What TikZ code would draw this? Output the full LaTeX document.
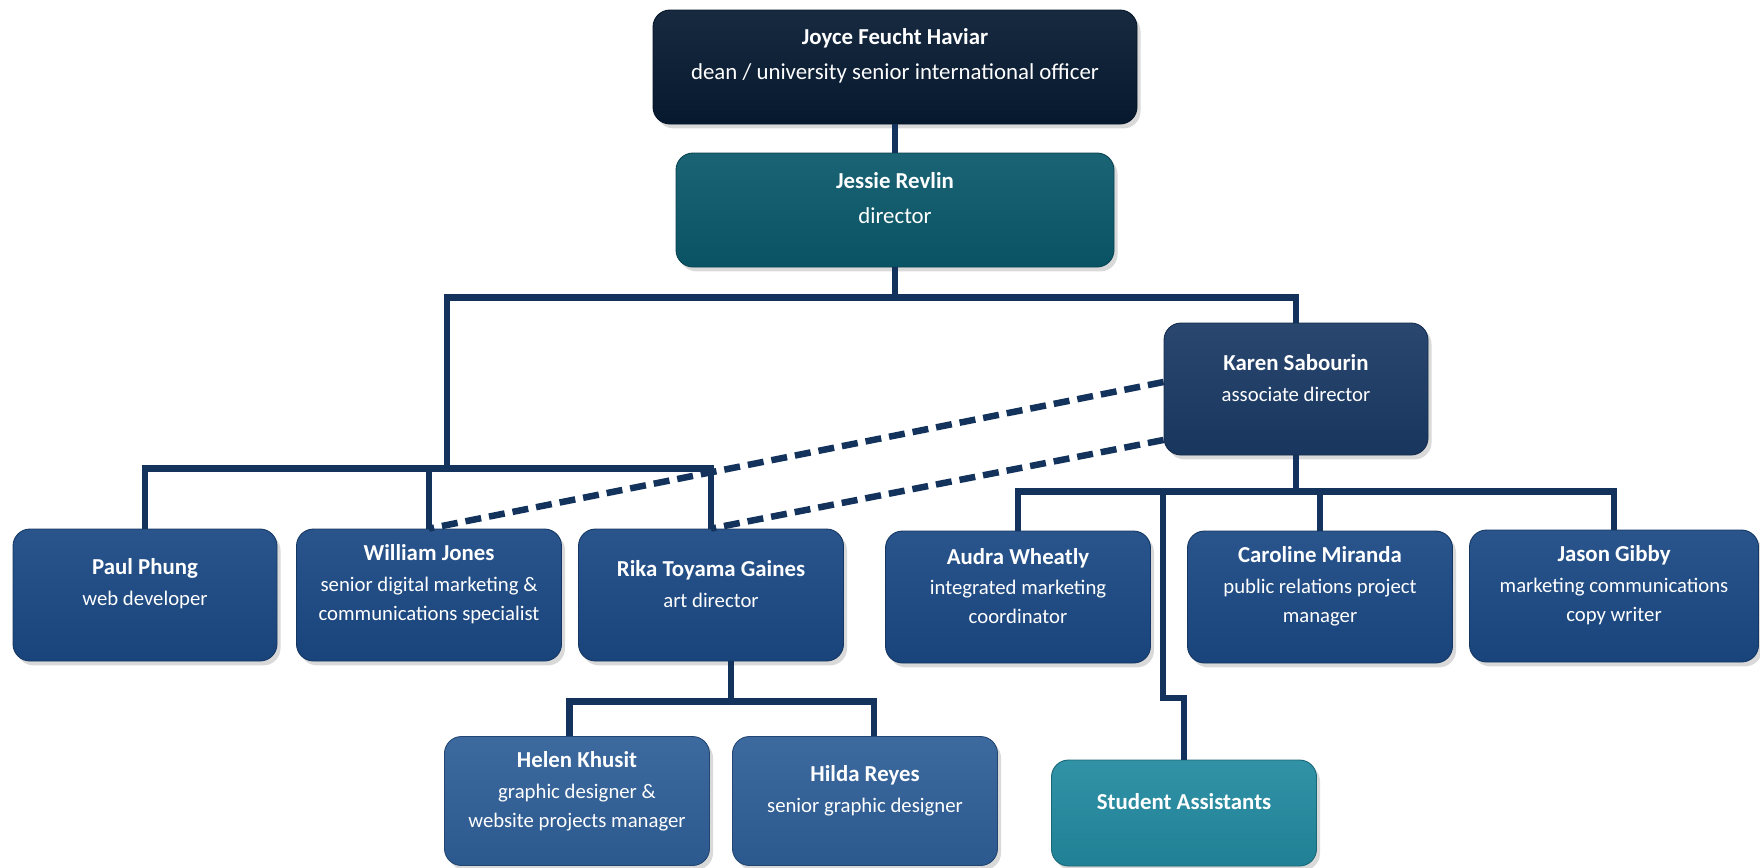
\documentclass[tikz,border=0pt]{standalone}
\usepackage{fontspec}
\setmainfont{Carlito}
\usetikzlibrary{shadows}
\definecolor{linkblue}{HTML}{13335C}
\definecolor{deanblue}{HTML}{061A31}
\definecolor{dirteal}{HTML}{09586A}
\definecolor{assocblue}{HTML}{1A3964}
\definecolor{staffblue}{HTML}{1A4883}
\definecolor{designblue}{HTML}{2E5E97}
\definecolor{studteal}{HTML}{22899F}
\newcommand{\who}[1]{{\fontsize{13}{16}\selectfont\bfseries #1}}
\begin{document}
\begin{tikzpicture}[x=0.02cm,y=-0.02cm,
  card/.style={rounded corners=0.34cm, draw=#1!75!black, line width=0.5pt,
    top color=#1!93!white, bottom color=#1!94!black,
    drop shadow={shadow xshift=2pt,shadow yshift=-2.5pt,opacity=0.3}},
  wh/.style 2 args={minimum width=#1*0.02cm, minimum height=#2*0.02cm},
  txt/.style={text=white, align=center, inner sep=0pt,
    font=\fontsize{11.8}{16.5}\selectfont},
  bigtxt/.style={txt, font=\fontsize{13}{18}\selectfont},
  link/.style={draw=linkblue, line width=0.13cm},
  dotlink/.style={link, dash pattern=on 0.32cm off 0.16cm}]
  \useasboundingbox (0,0) rectangle (1760,867);

  % top two levels
  \node[card=deanblue, wh={484}{114}] (joyce) at (895,67) {};
  \node[bigtxt] (joyce-t) at (895,56) {\who{Joyce Feucht Haviar}\\[2pt]dean / university senior international officer};
  \node[card=dirteal, wh={438}{114}] (jessie) at (895,210) {};
  \node[bigtxt] (jessie-t) at (895,198) {\who{Jessie Revlin}\\[2pt]director};
  \node[card=assocblue, wh={264}{132}] (karen) at (1296,389) {};
  \node[txt] (karen-t) at (1296,378) {\who{Karen Sabourin}\\[1pt]associate director};

  % staff row
  \node[card=staffblue, wh={264}{132}] (paul) at (145,595) {};
  \node[txt] (paul-t) at (145,584) {\who{Paul Phung}\\[1pt]web developer};
  \node[card=staffblue, wh={265}{132}] (william) at (429,595) {};
  \node[txt] (william-t) at (429,584) {\who{William Jones}\\[1pt]senior digital marketing \&\\communications specialist};
  \node[card=staffblue, wh={265}{132}] (rika) at (711,595) {};
  \node[txt] (rika-t) at (711,584) {\who{Rika Toyama Gaines}\\[1pt]art director};
  \node[card=staffblue, wh={265}{132}] (audra) at (1018,597) {};
  \node[txt] (audra-t) at (1018,586) {\who{Audra Wheatly}\\[1pt]integrated marketing\\coordinator};
  \node[card=staffblue, wh={265}{132}] (caroline) at (1320,597) {};
  \node[txt] (caroline-t) at (1320,586) {\who{Caroline Miranda}\\[1pt]public relations project\\manager};
  \node[card=staffblue, wh={289}{132}] (jason) at (1614,596) {};
  \node[txt] (jason-t) at (1614,585) {\who{Jason Gibby}\\[1pt]marketing communications\\copy writer};

  % bottom row
  \node[card=designblue, wh={265}{129}] (helen) at (577,801) {};
  \node[txt] (helen-t) at (577,791) {\who{Helen Khusit}\\[1pt]graphic designer \&\\website projects manager};
  \node[card=designblue, wh={265}{129}] (hilda) at (865,801) {};
  \node[txt] (hilda-t) at (865,791) {\who{Hilda Reyes}\\[1pt]senior graphic designer};
  \node[card=studteal, wh={265}{106}] (student) at (1184,813) {};
  \node[txt] (student-t) at (1184,802) {\who{Student Assistants}};

  % reporting lines
  \coordinate (staffbar) at (447,469);
  \coordinate (sjoin) at (1163,492);
  \coordinate (sbend) at (1163,698);
  \draw[link] (joyce.south) -- (jessie.north);
  \draw[link] (jessie.south) -- ++(0,30) -| (karen.north);
  \draw[link] (jessie.south) -- ++(0,30) -| (staffbar);
  \draw[link] (paul.north) -- ++(0,-60) -| (rika.north);
  \draw[link] (william.north) -- ++(0,-60);
  \draw[link] (karen.south) -- ++(0,37);
  \draw[link] (audra.north) -- ++(0,-39) -| (jason.north);
  \draw[link] (caroline.north) -- ++(0,-39);
  \draw[link] (sjoin) -- (sbend) -| (student.north);
  \draw[link] ([xshift=11.4pt]rika.south) -- ++(0,40) -| ([xshift=-4.3pt]helen.north);
  \draw[link] ([xshift=11.4pt]rika.south) -- ++(0,40) -| ([xshift=5pt]hilda.north);
  \draw[dotlink] ([yshift=4pt]karen.west) -- (william.north);
  \draw[dotlink] ([yshift=-29pt]karen.west) -- (rika.north);
\end{tikzpicture}
\end{document}
